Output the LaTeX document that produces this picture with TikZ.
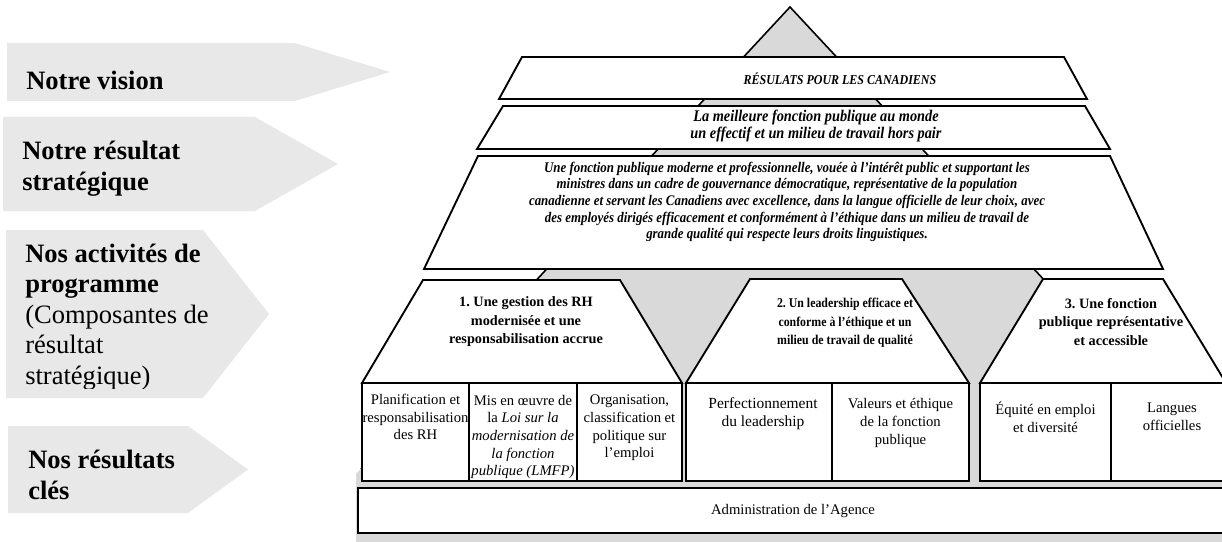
\documentclass[tikz,border=0pt]{standalone}
\usepackage{fontspec}
\setmainfont{Liberation Serif}
\newfontfamily\narrowserif[FakeStretch=0.88]{Liberation Serif}

\definecolor{taggray}{gray}{0.91}
\definecolor{pyrgray}{gray}{0.85}

\begin{document}
\frenchspacing
\begin{tikzpicture}[x=0.75pt, y=-0.75pt,
    band/.style={draw=black, line width=1.4pt, fill=white, line join=miter},
    cell/.style={draw=black, line width=1.7pt, fill=white},
    tagtext/.style={anchor=west, align=left, inner sep=0pt, font=\fontsize{19.9}{22.9}\selectfont\bfseries},
    celltext/.style={align=center, inner sep=0pt, font=\fontsize{11}{13.3}\selectfont},
    headtext/.style={align=center, inner sep=0pt, font=\fontsize{10.7}{13.9}\selectfont\bfseries},
    bandtext/.style={align=center, inner sep=0pt}]
    \clip (0,0) rectangle (1222,542);
    % Left arrows
    \fill[taggray] (7,43) -- (295,43) -- (390,72) -- (295,101) -- (7,101) -- cycle;
    \fill[taggray] (3,117) -- (255,117) -- (338,164) -- (255,211) -- (3,211) -- cycle;
    \fill[taggray] (6,230) -- (203,230) -- (269,314) -- (203,398) -- (6,398) -- cycle;
    \fill[taggray] (8,426) -- (188,426) -- (248,469.5) -- (188,513) -- (8,513) -- cycle;
    \node[tagtext] (vision) at (26,80) {Notre vision};
    \node[tagtext] (result) at (22,168.5) {Notre résultat\\stratégique};
    \begin{scope}
        \clip (0,230) rectangle (300,388);
        \node[tagtext, font=\fontsize{19.9}{22.9}\selectfont] (activities) at (25,317)
            {\textbf{Nos activités de}\\\textbf{programme}\\(Composantes de\\résultat\\stratégique)};
    \end{scope}
    \node[tagtext] (keyres) at (28,475) {Nos résultats\\clés};
    % Pyramid background
    \fill[pyrgray] (790,7) -- (1222,471) -- (1222,542) -- (356,542) -- (356,474) -- cycle;
    \draw[line width=1.2pt] (361,469) -- (790,7) -- (1222,471);
    % Top bands
    \draw[band] (522,57) -- (1064,57) -- (1087,99) -- (499,99) -- cycle;
    \draw[band] (503,106) -- (1085,106) -- (1110,149) -- (477,149) -- cycle;
    \draw[band] (478,156) -- (1110,156) -- (1163,269) -- (424,269) -- cycle;
    \node[bandtext, font=\fontsize{10.2}{12}\selectfont\narrowserif\bfseries\itshape] (canada) at (840,79)
        {RÉSULATS POUR LES CANADIENS};
    \node[bandtext, font=\fontsize{12.2}{12.75}\selectfont\narrowserif\bfseries\itshape] (bestps) at (816,126.5)
        {La meilleure fonction publique au monde\\un effectif et un milieu de travail hors pair};
    \node[bandtext, font=\fontsize{11}{12.5}\selectfont\narrowserif\bfseries\itshape] (psdesc) at (787,202)
        {Une fonction publique moderne et professionnelle, vouée à l’intérêt public et supportant les\\
         ministres dans un cadre de gouvernance démocratique, représentative de la population\\
         canadienne et servant les Canadiens avec excellence, dans la langue officielle de leur choix, avec\\
         des employés dirigés efficacement et conformément à l’éthique dans un milieu de travail de\\
         grande qualité qui respecte leurs droits linguistiques.};
    % Program activities
    \draw[band] (423,280) -- (620,280) -- (682,383) -- (362,383) -- cycle;
    \draw[band] (750,279) -- (902,279) -- (969,383) -- (686,383) -- cycle;
    \draw[band] (1043,279) -- (1163,279) -- (1226,383) -- (980,383) -- cycle;
    \node[headtext] (headrh) at (526,322) {1. Une gestion des RH\\modernisée et une\\responsabilisation accrue};
    \node[headtext, font=\fontsize{10.1}{13.9}\selectfont\narrowserif\bfseries] (headlead) at (845,323)
        {2. Un leadership efficace et\\conforme à l’éthique et un\\milieu de travail de qualité};
    \node[headtext] (headrep) at (1111,322) {3. Une fonction\\publique représentative\\et accessible};
    % Key results
    \draw[cell] (362,383) rectangle (469,481);
    \draw[cell] (469,383) rectangle (577,481);
    \draw[cell] (577,383) rectangle (682,481);
    \draw[cell] (686,383) rectangle (832,481);
    \draw[cell] (832,383) rectangle (969,481);
    \draw[cell] (980,383) rectangle (1111,481);
    \draw[cell] (1111,383) rectangle (1226,481);
    \node[celltext] (planif) at (415.5,417) {Planification et\\responsabilisation\\des RH};
    \node[celltext] (lmfp) at (523,437) {Mis en œuvre de\\la \textit{Loi sur la}\\\textit{modernisation de}\\\textit{la fonction}\\\textit{publique (LMFP)}};
    \node[celltext] (classif) at (629.5,428) {Organisation,\\classification et\\politique sur\\l’emploi};
    \node[celltext, font=\fontsize{11.6}{13.3}\selectfont] (leader) at (763,413.5) {Perfectionnement\\du leadership};
    \node[celltext] (ethics) at (900.5,423) {Valeurs et éthique\\de la fonction\\publique};
    \node[celltext] (equity) at (1045.5,417) {Équité en emploi\\et diversité};
    \node[celltext] (langs) at (1172,417) {Langues\\officielles};
    % Administration
    \draw[fill=white, line width=1pt] (358,488) rectangle (1230,533);
    \draw[line width=2.2pt] (358,488) -- (1230,488) (358,533) -- (1230,533);
    \node[celltext] (admin) at (793,511) {Administration de l’Agence};
\end{tikzpicture}
\end{document}
